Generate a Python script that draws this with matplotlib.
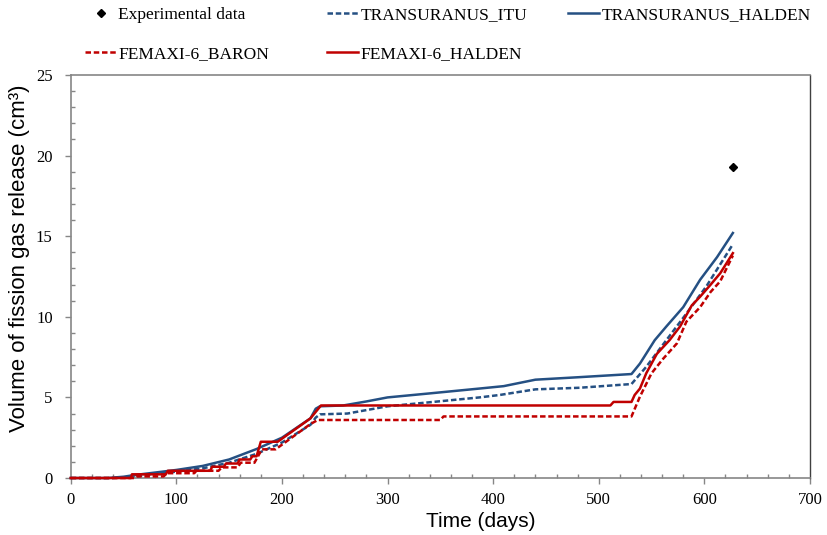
import matplotlib
matplotlib.use("Agg")
import matplotlib.pyplot as plt
from matplotlib.ticker import MultipleLocator

# data
exp_days = [627]
exp_vals = [19.27]

tu_halden_days = [0, 35, 50, 60, 75, 100, 125, 150, 176, 200, 227, 232, 236, 258,
                  280, 300, 340, 387, 410, 440, 480, 531, 539, 553, 564, 580, 596,
                  612, 627]
tu_halden_vals = [0, 0, 0.08, 0.18, 0.3, 0.5, 0.75, 1.15, 1.8, 2.5, 3.7, 4.3, 4.45,
                  4.5, 4.75, 5.0, 5.25, 5.55, 5.7, 6.1, 6.25, 6.45, 7.1, 8.55, 9.4,
                  10.6, 12.3, 13.7, 15.2]

tu_itu_days = [0, 40, 55, 75, 100, 125, 150, 176, 200, 227, 232, 236, 262, 300,
               340, 387, 406, 440, 482, 531, 545, 564, 583, 602, 627]
tu_itu_vals = [0, 0, 0.05, 0.2, 0.4, 0.6, 0.95, 1.5, 2.2, 3.3, 3.75, 3.95, 4.0, 4.45,
               4.7, 5.0, 5.15, 5.5, 5.6, 5.83, 6.9, 8.55, 10.2, 11.9, 14.5]

fx_halden_days = [0, 57, 58, 90, 92, 132, 134, 145, 147, 158, 160, 170, 172, 176,
                  180, 196, 227, 237, 511, 514, 531, 534, 539, 545, 555, 567, 577,
                  588, 596, 606, 615, 627]
fx_halden_vals = [0, 0, 0.23, 0.23, 0.45, 0.45, 0.7, 0.7, 0.9, 0.9, 1.15, 1.15,
                  1.35, 1.35, 2.25, 2.25, 3.7, 4.5, 4.5, 4.72, 4.72, 5.15, 5.55,
                  6.5, 7.7, 8.55, 9.4, 10.7, 11.25, 12.0, 12.7, 13.95]

fx_baron_days = [0, 60, 62, 88, 91, 117, 119, 140, 143, 158, 161, 174, 181, 194,
                 227, 234, 350, 353, 531, 539, 550, 561, 574, 583, 596, 606, 615,
                 627]
fx_baron_vals = [0, 0, 0.1, 0.1, 0.3, 0.3, 0.45, 0.45, 0.66, 0.66, 0.95, 0.95, 1.78,
                 1.78, 3.35, 3.6, 3.6, 3.82, 3.82, 5.05, 6.5, 7.4, 8.35, 9.7, 10.6,
                 11.55, 12.2, 13.8]

blue = "#255083"
red = "#C00000"
grey = "#868686"

fig = plt.figure(figsize=(8.27, 5.35), dpi=100)
ax = fig.add_axes([0.0855, 0.1065, 0.8939, 0.7533])

lw = 1.8
exp, = ax.plot(exp_days, exp_vals, linestyle="none", marker="D", markersize=4.2,
               color="black", label="Experimental data", zorder=5)
itu, = ax.plot(tu_itu_days, tu_itu_vals, color=blue, lw=lw, dashes=(2.2, 1.1),
               label="TRANSURANUS_ITU", zorder=3, clip_on=False)
tuh, = ax.plot(tu_halden_days, tu_halden_vals, color=blue, lw=lw,
               label="TRANSURANUS_HALDEN", zorder=3, clip_on=False)
bar, = ax.plot(fx_baron_days, fx_baron_vals, color=red, lw=lw, dashes=(2.2, 1.1),
               label="FEMAXI-6_BARON", zorder=3, clip_on=False)
fxh, = ax.plot(fx_halden_days, fx_halden_vals, color=red, lw=lw,
               label="FEMAXI-6_HALDEN", zorder=4, clip_on=False)

ax.set_xlim(0, 700)
ax.set_ylim(0, 25)
ax.xaxis.set_major_locator(MultipleLocator(100))
ax.xaxis.set_minor_locator(MultipleLocator(20))
ax.yaxis.set_major_locator(MultipleLocator(5))
ax.yaxis.set_minor_locator(MultipleLocator(1))

for s in ["left", "bottom", "top"]:
    ax.spines[s].set_color(grey)
    ax.spines[s].set_linewidth(1.2)
ax.spines["right"].set_color("#404040")
ax.spines["right"].set_linewidth(1.0)

ax.tick_params(which="major", direction="out", length=4, width=1, color=grey,
               labelsize=12, top=False, right=False)
ax.tick_params(which="minor", direction="in", length=3, width=1, color=grey,
               top=False, right=False)
ax.tick_params(axis="y", which="major", pad=9)
ax.tick_params(axis="x", which="major", pad=6)
for lab in ax.get_xticklabels() + ax.get_yticklabels():
    lab.set_family("Liberation Serif")

ax.set_xlabel("Time (days)", family="Liberation Sans", fontsize=15)
ax.set_ylabel("Volume of fission gas release (cm³)", family="Liberation Sans",
              fontsize=16)
ax.xaxis.set_label_coords(0.555, -0.084)
ax.yaxis.set_label_coords(-0.055, 0.546)

# legend laid out as three columns like the original
cols = [([exp, bar], 85), ([itu, fxh], 327), ([tuh], 568)]
for handles, x in cols:
    fig.legend(handles=handles, loc="upper left",
               bbox_to_anchor=(x / 827, 1 - 7 / 535), frameon=False,
               borderpad=0, borderaxespad=0, handlelength=1.8,
               handletextpad=0.12, labelspacing=1.3,
               prop={"family": "Liberation Serif", "size": 12.5})

fig.savefig("out.png", dpi=100)
